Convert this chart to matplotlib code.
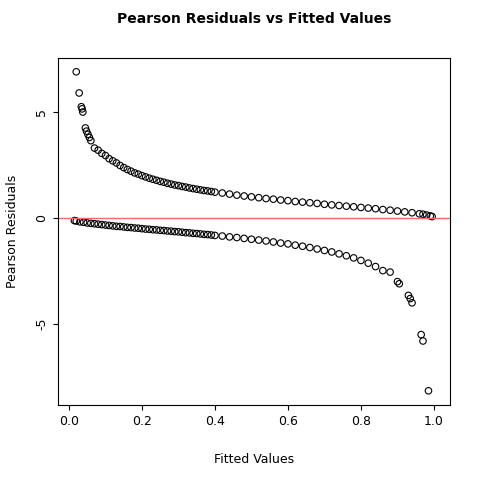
import matplotlib
matplotlib.use("Agg")
import matplotlib.pyplot as plt

plt.rcParams['axes.unicode_minus'] = False

up_x = [0.02,0.028,0.034,0.036,0.038,0.045,0.048,0.052,0.056,0.06,0.07,0.08,0.09,0.10,0.11,0.12,0.13,0.14,0.15,0.16,0.17,0.18,0.19,0.20,0.21,0.22,0.23,0.24,0.25,0.26,0.27,0.28,0.29,0.30,0.31,0.32,0.33,0.34,0.35,0.36,0.37,0.38,0.39,0.40,0.42,0.44,0.46,0.48,0.50,0.52,0.54,0.56,0.58,0.60,0.62,0.64,0.66,0.68,0.70,0.72,0.74,0.76,0.78,0.80,0.82,0.84,0.86,0.88,0.90,0.92,0.94,0.96,0.97,0.98,0.99,0.995]
up_y = [6.90,5.90,5.25,5.15,5.00,4.25,4.10,3.95,3.80,3.65,3.30,3.20,3.05,2.95,2.80,2.70,2.60,2.48,2.38,2.29,2.21,2.13,2.07,2.00,1.94,1.88,1.83,1.78,1.73,1.69,1.64,1.60,1.56,1.53,1.49,1.46,1.42,1.39,1.36,1.33,1.30,1.28,1.25,1.22,1.18,1.13,1.08,1.04,1.00,0.96,0.92,0.89,0.85,0.82,0.78,0.75,0.72,0.69,0.65,0.62,0.59,0.56,0.53,0.50,0.47,0.44,0.40,0.37,0.33,0.29,0.25,0.20,0.18,0.14,0.10,0.07]
lo_x = [0.015,0.02,0.03,0.04,0.05,0.06,0.07,0.08,0.09,0.10,0.11,0.12,0.13,0.14,0.15,0.16,0.17,0.18,0.19,0.20,0.21,0.22,0.23,0.24,0.25,0.26,0.27,0.28,0.29,0.30,0.31,0.32,0.33,0.34,0.35,0.36,0.37,0.38,0.39,0.40,0.42,0.44,0.46,0.48,0.50,0.52,0.54,0.56,0.58,0.60,0.62,0.64,0.66,0.68,0.70,0.72,0.74,0.76,0.78,0.80,0.82,0.84,0.86,0.88,0.90,0.905,0.93,0.935,0.94,0.965,0.97,0.985]
lo_y = [-0.12,-0.14,-0.18,-0.20,-0.23,-0.25,-0.27,-0.29,-0.31,-0.33,-0.35,-0.37,-0.39,-0.40,-0.42,-0.44,-0.45,-0.47,-0.48,-0.50,-0.52,-0.53,-0.55,-0.56,-0.58,-0.59,-0.61,-0.62,-0.64,-0.65,-0.67,-0.69,-0.70,-0.72,-0.73,-0.75,-0.77,-0.78,-0.80,-0.82,-0.85,-0.89,-0.92,-0.96,-1.00,-1.04,-1.08,-1.13,-1.18,-1.22,-1.28,-1.33,-1.39,-1.46,-1.53,-1.60,-1.69,-1.78,-1.88,-2.00,-2.13,-2.29,-2.48,-2.55,-3.00,-3.10,-3.65,-3.80,-4.00,-5.50,-5.80,-8.15]

fig = plt.figure(figsize=(4.8, 4.8), dpi=100)
ax = fig.add_axes([58/480, 75/480, 392/480, 347/480])
ax.scatter(up_x + lo_x, up_y + lo_y, s=22, facecolors='none', edgecolors='black', linewidths=0.8)
ax.axhline(0, color='#ff6666', lw=1)
ax.set_xlim(-0.03, 1.044)
ax.set_ylim(-8.82, 7.55)
ax.set_xticks([0, 0.2, 0.4, 0.6, 0.8, 1.0])
ax.set_xticklabels(['0.0', '0.2', '0.4', '0.6', '0.8', '1.0'])
ax.set_yticks([-5, 0, 5])
for lab in ax.get_yticklabels():
    lab.set_rotation(90); lab.set_va('center')
ax.tick_params(labelsize=9)
ax.set_xlabel('Fitted Values', fontsize=9, labelpad=18)
ax.set_ylabel('Pearson Residuals', fontsize=9, labelpad=12)
ax.set_title('Pearson Residuals vs Fitted Values', fontsize=10, fontweight='bold', pad=25)
fig.savefig('out.png', dpi=100)
